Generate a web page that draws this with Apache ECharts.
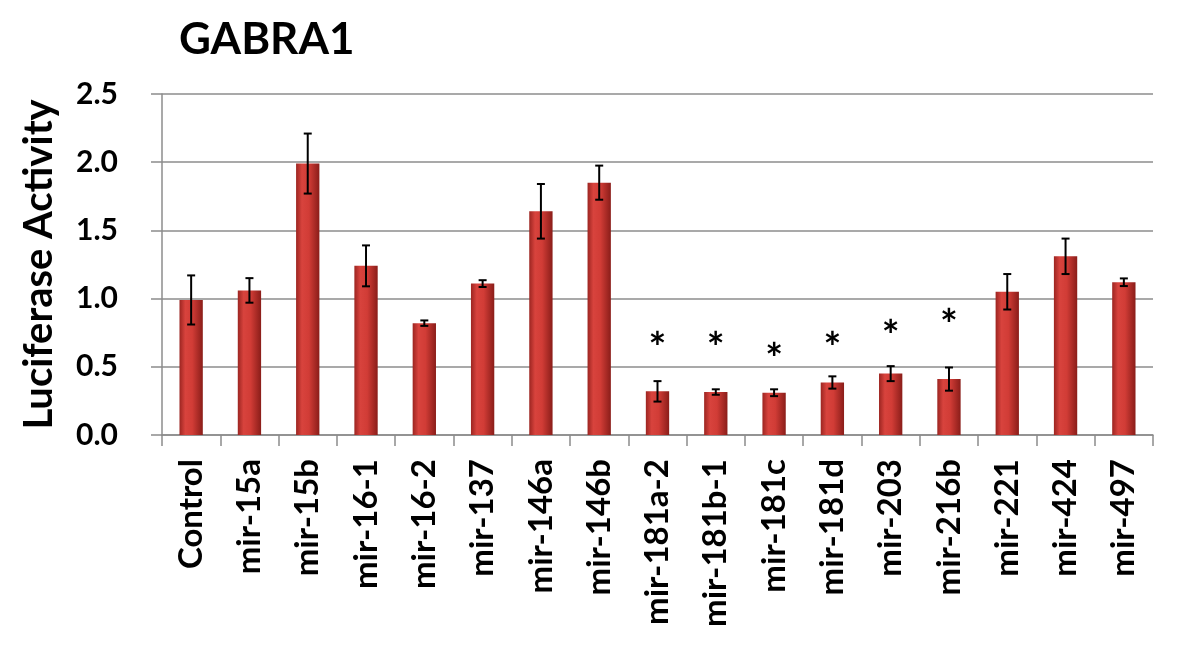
<!DOCTYPE html>
<html>
<head>
<meta charset="utf-8">
<script src="https://cdn.jsdelivr.net/npm/echarts@6/dist/echarts.min.js"></script>
<style>
html, body { margin: 0; padding: 0; background: #fff; }
#chart { width: 1200px; height: 650px; }
</style>
</head>
<body>
<div id="chart"></div>
<script>
// data
const categories = ['Control', 'mir-15a', 'mir-15b', 'mir-16-1', 'mir-16-2', 'mir-137', 'mir-146a', 'mir-146b',
    'mir-181a-2', 'mir-181b-1', 'mir-181c', 'mir-181d', 'mir-203', 'mir-216b', 'mir-221', 'mir-424', 'mir-497']
const values = [0.99, 1.06, 1.99, 1.24, 0.82, 1.11, 1.64, 1.85, 0.32, 0.315, 0.31, 0.385, 0.45, 0.41, 1.05, 1.31, 1.12]
const errors = [0.18, 0.09, 0.22, 0.15, 0.02, 0.025, 0.2, 0.125, 0.075, 0.02, 0.025, 0.045, 0.055, 0.085, 0.13, 0.13, 0.028]
// asterisks: [category index, height]
const stars = [[8, 0.70], [9, 0.70], [10, 0.62], [11, 0.70], [12, 0.785], [13, 0.87]]
const yTicks = { min: 0, max: 2.5, interval: 0.5 }

const font = 'Lato'
const chart = echarts.init(document.getElementById('chart'))

const barColor = {
    type: 'linear', x: 0, y: 0, x2: 1, y2: 0,
    colorStops: [
        { offset: 0, color: '#9c2521' },
        { offset: 0.25, color: '#d8433d' },
        { offset: 0.55, color: '#d13c36' },
        { offset: 1, color: '#8a1d19' }
    ]
}

chart.setOption({
    animation: false,
    title: {
        text: 'GABRA1',
        left: 174,
        top: 13,
        textStyle: { fontFamily: font, fontWeight: 'bold', fontSize: 44, color: '#000' }
    },
    grid: { left: 162, right: 47, top: 94, bottom: 215 },
    xAxis: {
        type: 'category',
        data: categories,
        axisLine: { lineStyle: { color: '#8c8c8c', width: 1.5 } },
        axisTick: { show: true, length: 11, lineStyle: { color: '#8c8c8c', width: 1.5 } },
        axisLabel: {
            rotate: 90,
            margin: 24,
            color: '#000',
            fontFamily: font,
            fontWeight: 'bold',
            fontSize: 33
        }
    },
    yAxis: {
        type: 'value',
        min: yTicks.min,
        max: yTicks.max,
        interval: yTicks.interval,
        name: 'Luciferase Activity',
        nameLocation: 'middle',
        nameGap: 103,
        nameTextStyle: { fontFamily: font, fontWeight: 'bold', fontSize: 40, color: '#000' },
        axisLine: { show: true, lineStyle: { color: '#8c8c8c', width: 1.5 } },
        axisTick: { show: true, length: 11, lineStyle: { color: '#8c8c8c', width: 1.5 } },
        splitLine: { lineStyle: { color: '#8c8c8c', width: 1.5 } },
        axisLabel: {
            margin: 44,
            color: '#000',
            fontFamily: font,
            fontWeight: 'bold',
            fontSize: 30,
            formatter: v => v.toFixed(1)
        }
    },
    series: [
        {
            type: 'bar',
            data: values,
            barWidth: '40%',
            itemStyle: { color: barColor },
            z: 2
        },
        {
            // error bars
            type: 'custom',
            z: 3,
            data: values.map((v, i) => [i, v - errors[i], v + errors[i]]),
            renderItem: function (params, api) {
                const lo = api.coord([api.value(0), api.value(1)])
                const hi = api.coord([api.value(0), api.value(2)])
                const cap = 4
                const st = { stroke: '#000', lineWidth: 2 }
                return {
                    type: 'group',
                    children: [
                        { type: 'line', shape: { x1: lo[0], y1: lo[1], x2: hi[0], y2: hi[1] }, style: st },
                        { type: 'line', shape: { x1: lo[0] - cap, y1: lo[1], x2: lo[0] + cap, y2: lo[1] }, style: st },
                        { type: 'line', shape: { x1: hi[0] - cap, y1: hi[1], x2: hi[0] + cap, y2: hi[1] }, style: st }
                    ]
                }
            }
        },
        {
            // significance asterisks
            type: 'custom',
            z: 3,
            data: stars,
            renderItem: function (params, api) {
                const p = api.coord([api.value(0), api.value(1)])
                return {
                    type: 'text',
                    x: p[0],
                    y: p[1] + 10,
                    style: {
                        text: '*',
                        fill: '#000',
                        font: 'bold 42px ' + font,
                        textAlign: 'center',
                        textVerticalAlign: 'middle'
                    }
                }
            }
        }
    ]
})
</script>
</body>
</html>
